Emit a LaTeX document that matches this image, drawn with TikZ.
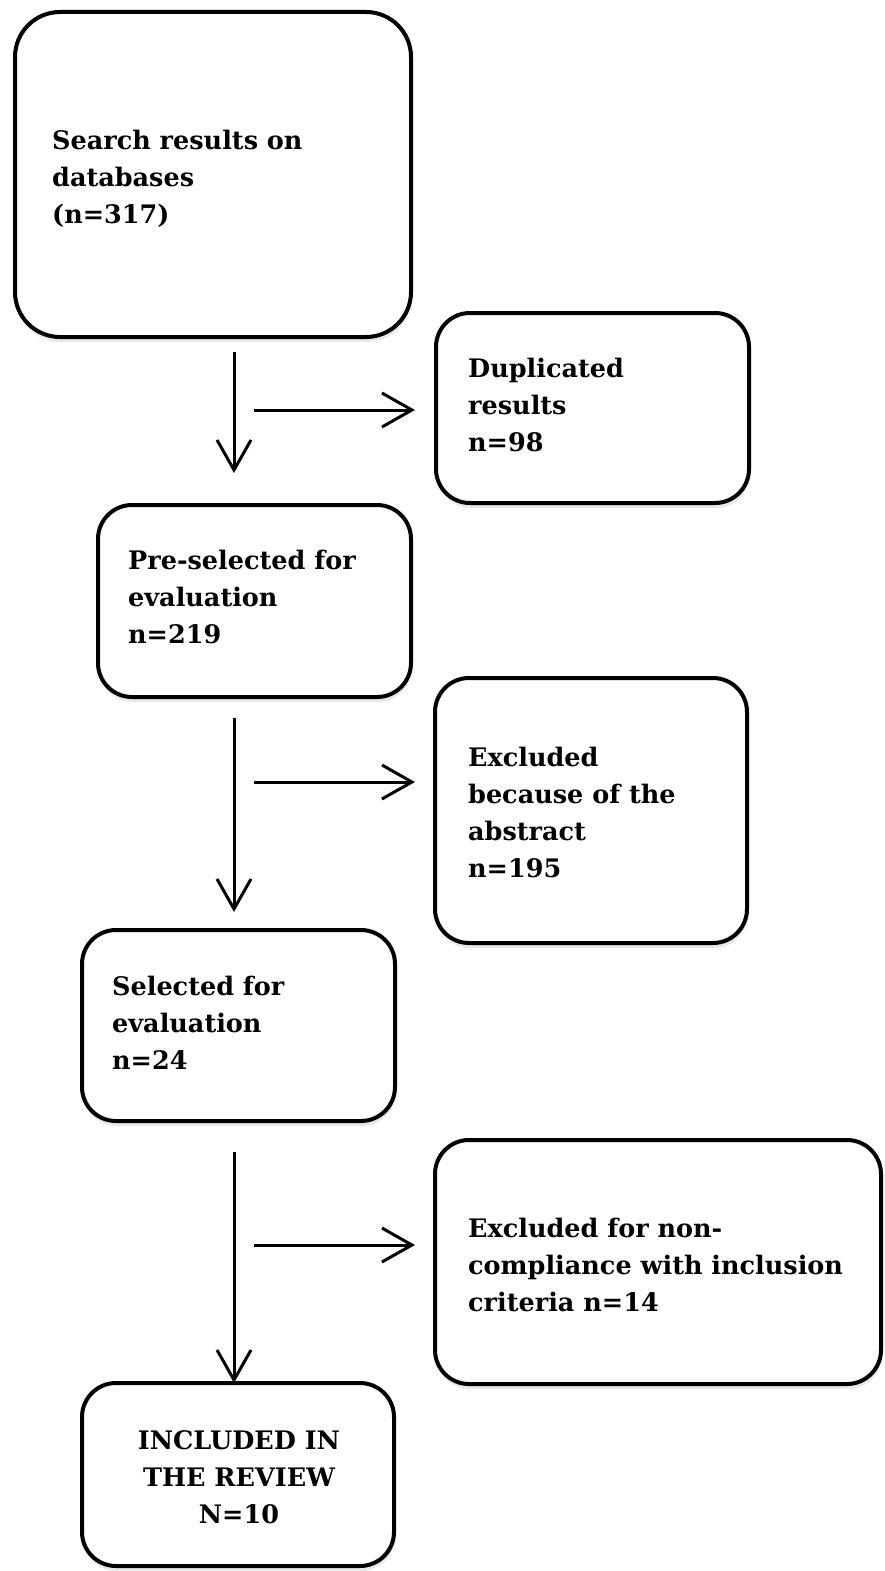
\documentclass[tikz,border=0pt]{standalone}
\usepackage{fontspec}
\setmainfont{DejaVu Serif}
\usetikzlibrary{arrows.meta,shadows}
\begin{document}
\begin{tikzpicture}[x=1pt,y=-1pt,
  box/.style={draw=black, line width=4pt, fill=white, rounded corners=34pt, inner sep=0pt, outer sep=0pt,
    drop shadow={shadow xshift=1pt, shadow yshift=-5pt, opacity=0.18}},
  lbl/.style={anchor=west, align=left, inner sep=0pt, text=black, font=\bfseries\fontsize{25.5}{37}\selectfont},
  flow/.style={line width=3pt, -{Straight Barb[length=30pt,width=34pt]}}]
\useasboundingbox (0,0) rectangle (885,1571);
\fill[white] (0,0) rectangle (885,1571);

% boxes
\node[box, rounded corners=45pt, minimum width=396pt, minimum height=325pt] (b1) at (213,174.5) {};
\node[box, minimum width=313pt, minimum height=190pt] (b2) at (592.5,408) {};
\node[box, minimum width=313pt, minimum height=192pt] (b3) at (254.5,601) {};
\node[box, minimum width=312pt, minimum height=265pt] (b4) at (591,810.5) {};
\node[box, minimum width=313pt, minimum height=191pt] (b5) at (238.5,1025.5) {};
\node[box, minimum width=446pt, minimum height=244pt] (b6) at (658,1262) {};
\node[box, minimum width=312pt, minimum height=183pt] (b7) at (238,1474.5) {};

% texts
\node[lbl] (t1) at ([xshift=37pt,yshift=-4pt]b1.west) {Search results on\\databases\\(n=317)};
\node[lbl] (t2) at ([xshift=32pt,yshift=3pt]b2.west) {Duplicated\\results\\n=98};
\node[lbl] (t3) at ([xshift=30pt,yshift=4pt]b3.west) {Pre-selected for\\evaluation\\n=219};
\node[lbl] (t4) at ([xshift=33pt,yshift=-2pt]b4.west) {Excluded\\because of the\\abstract\\n=195};
\node[lbl] (t5) at ([xshift=30pt,yshift=3pt]b5.west) {Selected for\\evaluation\\n=24};
\node[lbl] (t6) at ([xshift=33pt,yshift=-3pt]b6.west) {Excluded for non-\\compliance with inclusion\\criteria n=14};
\node[lbl, anchor=center, align=center] (t7) at ([xshift=1pt,yshift=-3pt]b7.center) {INCLUDED IN\\THE REVIEW\\N=10};

% connectors
\coordinate (a1s) at (234,352);
\coordinate (a1e) at (234,473);
\coordinate (h1s) at (254,410);
\coordinate (h1e) at (415,410);
\coordinate (a2s) at (234,718);
\coordinate (a2e) at (234,912);
\coordinate (h2s) at (254,782);
\coordinate (h2e) at (415,782);
\coordinate (a3s) at (234,1152);
\coordinate (h3s) at (254,1245);
\coordinate (h3e) at (415,1245);

\draw[flow] (a1s) -- (a1e);
\draw[flow] (h1s) -- (h1e);
\draw[flow] (a2s) -- (a2e);
\draw[flow] (h2s) -- (h2e);
\draw[flow] (a3s) -- (a3s |- b7.north);
\draw[flow] (h3s) -- (h3e);
\end{tikzpicture}
\end{document}
